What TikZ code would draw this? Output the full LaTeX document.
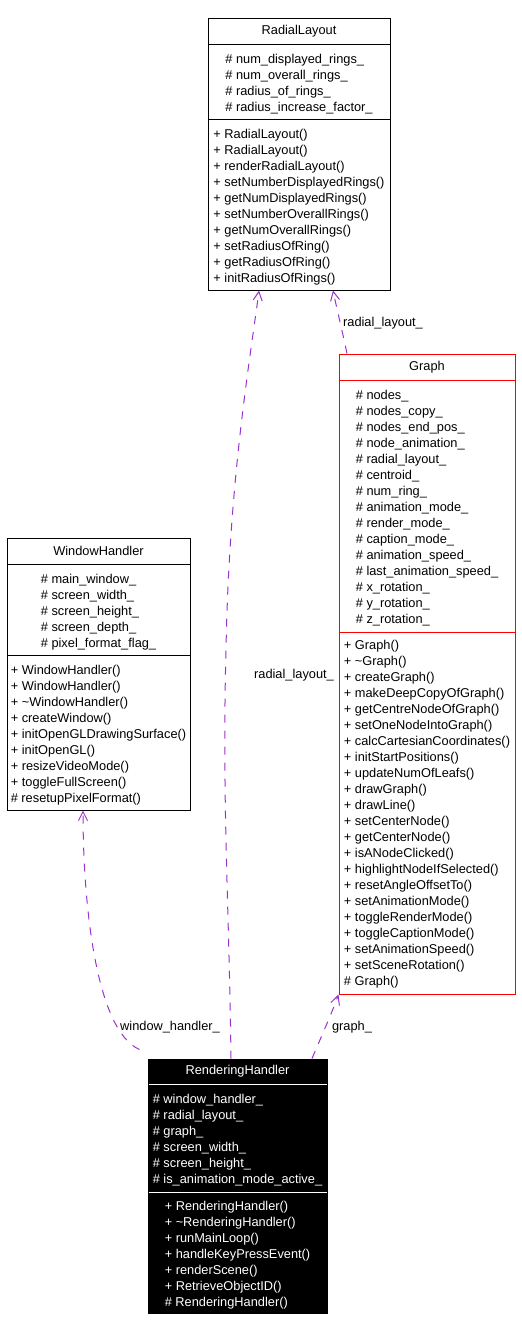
\documentclass[tikz,border=0pt]{standalone}
\usepackage{fontspec}
\setmainfont{Liberation Sans}
\usepackage{tikz}
\usetikzlibrary{arrows.meta}
\definecolor{depcolor}{RGB}{154,50,205}
\definecolor{graphred}{RGB}{255,0,0}

\begin{document}
\begin{tikzpicture}[x=1pt,y=-1pt,>={Straight Barb[length=9pt,width=9pt]},
                    line width=1pt]
\tikzstyle{class}=[draw=black,line width=1pt,inner sep=0pt]
\tikzstyle{members}=[align=left,inner sep=0pt]
\tikzstyle{dep}=[->,draw=depcolor,line width=1pt,dash pattern=on 8pt off 8pt]
\tikzset{font=\fontsize{12.8pt}{16pt}\selectfont}

        \useasboundingbox (0,0) rectangle (522,1331);

        % RadialLayout
        \node[class, minimum width=182pt, minimum height=272pt]          (radial)  at (299,154) {};
        \node[inner sep=0pt]                                             (radialT) at (299,31)  {RadialLayout};
        \draw (radial.west |- 0,44) -- (radial.east |- 0,44);
        \draw (radial.west |- 0,119) -- (radial.east |- 0,119);
        \node[members]                                                   (radialA) at (299,84)  {\# num\_displayed\_rings\_\\\# num\_overall\_rings\_\\\# radius\_of\_rings\_\\\# radius\_increase\_factor\_};
        \node[members]                                                   (radialM) at (299,207) {+ RadialLayout()\\+ RadialLayout()\\+ renderRadialLayout()\\+ setNumberDisplayedRings()\\+ getNumDisplayedRings()\\+ setNumberOverallRings()\\+ getNumOverallRings()\\+ setRadiusOfRing()\\+ getRadiusOfRing()\\+ initRadiusOfRings()};

        % Graph
        \node[class, draw=graphred, minimum width=176pt, minimum height=640pt] (graph) at (427,674) {};
        \node[inner sep=0pt]                                             (graphT)  at (427,367) {Graph};
        \draw[graphred] (graph.west |- 0,380) -- (graph.east |- 0,380);
        \draw[graphred] (graph.west |- 0,632) -- (graph.east |- 0,632);
        \node[members]                                                   (graphA)  at (427,508) {\# nodes\_\\\# nodes\_copy\_\\\# nodes\_end\_pos\_\\\# node\_animation\_\\\# radial\_layout\_\\\# centroid\_\\\# num\_ring\_\\\# animation\_mode\_\\\# render\_mode\_\\\# caption\_mode\_\\\# animation\_speed\_\\\# last\_animation\_speed\_\\\# x\_rotation\_\\\# y\_rotation\_\\\# z\_rotation\_};
        \node[members]                                                   (graphM)  at (427,814) {+ Graph()\\+ \textasciitilde Graph()\\+ createGraph()\\+ makeDeepCopyOfGraph()\\+ getCentreNodeOfGraph()\\+ setOneNodeIntoGraph()\\+ calcCartesianCoordinates()\\+ initStartPositions()\\+ updateNumOfLeafs()\\+ drawGraph()\\+ drawLine()\\+ setCenterNode()\\+ getCenterNode()\\+ isANodeClicked()\\+ highlightNodeIfSelected()\\+ resetAngleOffsetTo()\\+ setAnimationMode()\\+ toggleRenderMode()\\+ toggleCaptionMode()\\+ setAnimationSpeed()\\+ setSceneRotation()\\\# Graph()};

        % WindowHandler
        \node[class, minimum width=183pt, minimum height=272pt]          (win)     at (98.5,674) {};
        \node[inner sep=0pt]                                             (winT)    at (98.5,551) {WindowHandler};
        \draw (win.west |- 0,564) -- (win.east |- 0,564);
        \draw (win.west |- 0,655) -- (win.east |- 0,655);
        \node[members]                                                   (winA)    at (98.5,612) {\# main\_window\_\\\# screen\_width\_\\\# screen\_height\_\\\# screen\_depth\_\\\# pixel\_format\_flag\_};
        \node[members]                                                   (winM)    at (98.5,735) {+ WindowHandler()\\+ WindowHandler()\\+ \textasciitilde WindowHandler()\\+ createWindow()\\+ initOpenGLDrawingSurface()\\+ initOpenGL()\\+ resizeVideoMode()\\+ toggleFullScreen()\\\# resetupPixelFormat()};

        % RenderingHandler
        \node[class, fill=black, minimum width=179pt, minimum height=254pt] (rend) at (237.5,1186) {};
        \node[inner sep=0pt, text=white]                                 (rendT)   at (237.5,1071.5) {RenderingHandler};
        \draw[white] ([xshift=1pt]rend.west |- 0,1084) -- ([xshift=-1pt]rend.east |- 0,1084);
        \draw[white] ([xshift=1pt]rend.west |- 0,1192) -- ([xshift=-1pt]rend.east |- 0,1192);
        \node[members, text=white]                                       (rendA)   at (237.5,1140) {\# window\_handler\_\\\# radial\_layout\_\\\# graph\_\\\# screen\_width\_\\\# screen\_height\_\\\# is\_animation\_mode\_active\_};
        \node[members, text=white]                                       (rendM)   at (237.5,1255) {+ RenderingHandler()\\+ \textasciitilde RenderingHandler()\\+ runMainLoop()\\+ handleKeyPressEvent()\\+ renderScene()\\+ RetrieveObjectID()\\\# RenderingHandler()};

        % edge labels
        \node[inner sep=0pt] (lwin)   at (170,1027) {window\_handler\_};
        \node[inner sep=0pt] (lrad)   at (294,675)  {radial\_layout\_};
        \node[inner sep=0pt] (lgrad)  at (383,323)  {radial\_layout\_};
        \node[inner sep=0pt] (lgraph) at (352,1027) {graph\_};

        \draw[dep] ([xshift=-8pt,yshift=9pt]rend.north west) .. controls (95,1030) and (83,900) .. (win.south -| 83,0);
        \draw[dep] (rend.north -| 231,0) .. controls (229,900) and (222,800) .. (226,650)
                                          .. controls (229,480) and (250,360) .. (radial.south -| 259,0);
        \draw[dep] (rend.north -| 312,0) .. controls (322,1035) and (333,1010) .. (graph.south west);
        \draw[dep] (graph.north -| 347,0) .. controls (342,330) and (336,305) .. (radial.south -| 333,0);

\end{tikzpicture}
\end{document}
